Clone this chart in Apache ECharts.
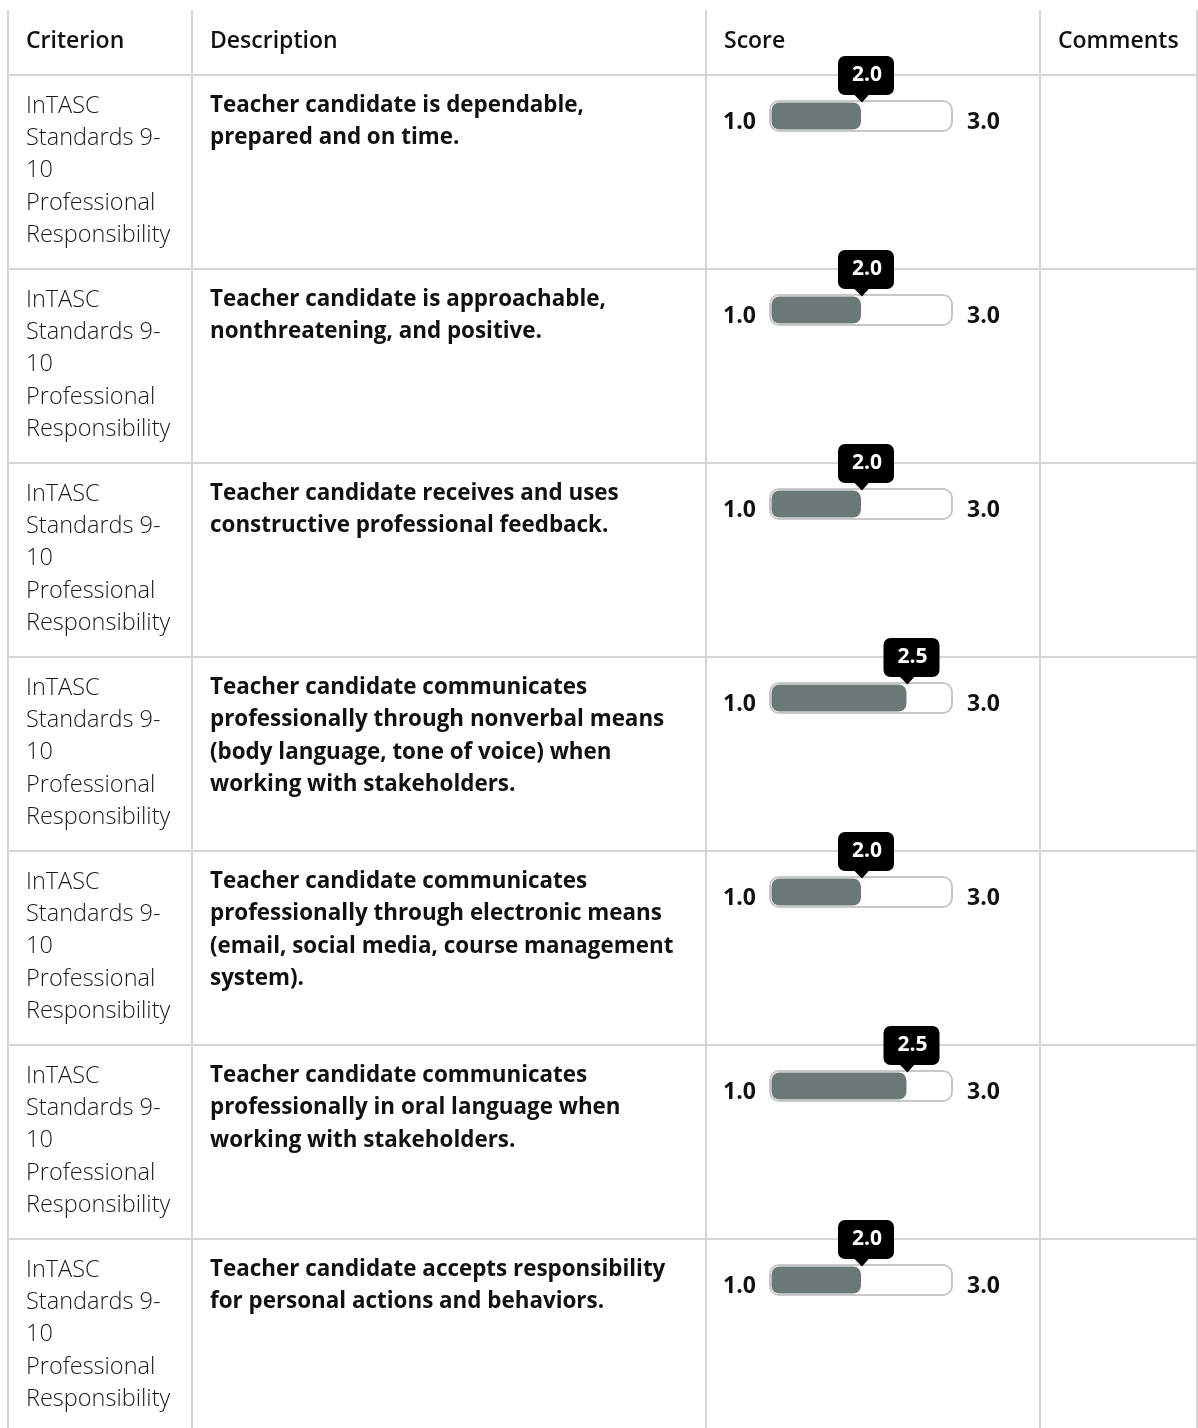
<!DOCTYPE html>
<html><head><meta charset="utf-8">
<script src="https://cdn.jsdelivr.net/npm/echarts@6/dist/echarts.min.js"></script>
<style>html,body{margin:0;padding:0;background:#fff}#c{width:1198px;height:1428px}</style>
</head><body><div id="c"></div>
<script>
const headers = ['Criterion', 'Description', 'Score', 'Comments'];
const criterionLines = ['InTASC', 'Standards 9-', '10', 'Professional', 'Responsibility'];
const descriptions = [
  ['Teacher candidate is dependable,', 'prepared and on time.'],
  ['Teacher candidate is approachable,', 'nonthreatening, and positive.'],
  ['Teacher candidate receives and uses', 'constructive professional feedback.'],
  ['Teacher candidate communicates', 'professionally through nonverbal means', '(body language, tone of voice) when', 'working with stakeholders.'],
  ['Teacher candidate communicates', 'professionally through electronic means', '(email, social media, course management', 'system).'],
  ['Teacher candidate communicates', 'professionally in oral language when', 'working with stakeholders.'],
  ['Teacher candidate accepts responsibility', 'for personal actions and behaviors.']
];
const scores = [2.0, 2.0, 2.0, 2.5, 2.0, 2.5, 2.0];
const scoreMin = 1.0;
const scoreMax = 3.0;

const FONT = '"Open Sans", "Lato", sans-serif';
const colX = [8, 192, 706, 1040, 1197];
const headerTop = 10, rowTop0 = 75, rowH = 194, pageH = 1428;
const lineColor = '#d5d5d2';

const graphics = [];
colX.forEach(x => graphics.push({type: 'line', shape: {x1: x, y1: headerTop, x2: x, y2: pageH}, style: {stroke: lineColor, lineWidth: 2}, silent: true}));
for (let i = 0; i < scores.length; i++) {
  const y = rowTop0 + rowH * i;
  graphics.push({type: 'line', shape: {x1: colX[0], y1: y, x2: 1198, y2: y}, style: {stroke: lineColor, lineWidth: 2}, silent: true});
}
headers.forEach((h, i) => graphics.push({type: 'text', x: colX[i] + 18, y: 41, style: {text: h, font: '600 23px ' + FONT, fill: '#111', verticalAlign: 'middle'}, silent: true}));
for (let r = 0; r < scores.length; r++) {
  const top = rowTop0 + rowH * r;
  graphics.push({type: 'text', x: colX[0] + 18, y: top + 15, style: {text: criterionLines.join('\n'), font: '300 23.5px ' + FONT, lineHeight: 32.3, fill: '#1a1a1a'}, silent: true});
  graphics.push({type: 'text', x: colX[1] + 18, y: top + 14.5, style: {text: descriptions[r].join('\n'), font: 'bold 22.4px ' + FONT, lineHeight: 32.3, fill: '#111'}, silent: true});
}

const data = scores.map((v, i) => [v, i]);

const chart = echarts.init(document.getElementById('c'), null, {renderer: 'canvas'});
chart.setOption({
  animation: false,
  backgroundColor: '#fff',
  grid: {left: 770, width: 182, top: 19, height: rowH * scores.length, containLabel: false},
  xAxis: {type: 'value', min: scoreMin, max: scoreMax, show: false},
  yAxis: {type: 'category', data: scores.map((_, i) => i), inverse: true, show: false},
  graphic: graphics,
  series: [{
    type: 'custom',
    data: data,
    clip: false,
    renderItem: function (params, api) {
      const v = api.value(0), idx = api.value(1);
      const p0 = api.coord([scoreMin, idx]);
      const p1 = api.coord([scoreMax, idx]);
      const pv = api.coord([v, idx]);
      const cy = p0[1];
      return {
        type: 'group',
        children: [
          {type: 'rect', shape: {x: p0[0], y: cy - 15, width: p1[0] - p0[0], height: 30, r: 9}, style: {fill: '#fff', stroke: '#c8c8c8', lineWidth: 2}},
          {type: 'rect', shape: {x: p0[0] + 1.5, y: cy - 13.5, width: pv[0] - p0[0] - 1.5, height: 27, r: 8}, style: {fill: '#6b7876'}},
          {type: 'text', x: p0[0] - 47, y: cy + 6.5, style: {text: scoreMin.toFixed(1), font: 'bold 23px ' + FONT, fill: '#111', verticalAlign: 'middle'}},
          {type: 'text', x: p1[0] + 15, y: cy + 6.5, style: {text: scoreMax.toFixed(1), font: 'bold 23px ' + FONT, fill: '#111', verticalAlign: 'middle'}},
          {type: 'rect', shape: {x: pv[0] - 23, y: cy - 60, width: 56, height: 39, r: 7}, style: {fill: '#000'}},
          {type: 'polygon', shape: {points: [[pv[0] - 7.5, cy - 22], [pv[0] + 8.5, cy - 22], [pv[0] + 1, cy - 13.5]]}, style: {fill: '#000'}},
          {type: 'text', x: pv[0] + 6, y: cy - 41, style: {text: v.toFixed(1), font: 'bold 21px ' + FONT, fill: '#fff', align: 'center', verticalAlign: 'middle'}}
        ]
      };
    }
  }]
});
</script>
</body></html>
